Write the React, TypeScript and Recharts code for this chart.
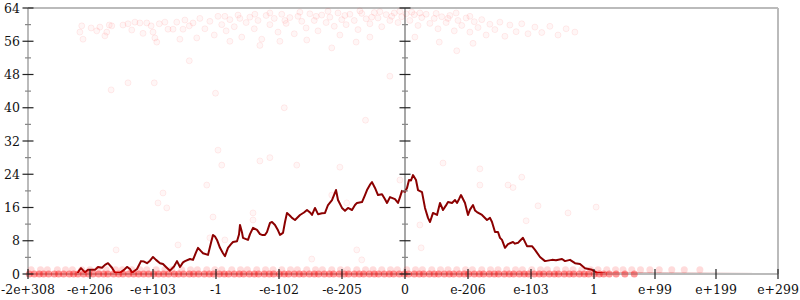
import React from 'react';
import { ComposedChart, Line, Scatter, XAxis, YAxis, ReferenceLine } from 'recharts';

// x positions of the labelled ticks (axis units) and their labels
const X_TICKS = [0, 0.992, 2, 3.008, 4.016, 5.024, 6.032, 7.04, 8.048, 9.056, 10.032, 11.008, 12];
const X_LABELS = ['-2e+308', '-e+206', '-e+103', '-1', '-e-102', '-e-205', '0', 'e-206', 'e-103', '1', 'e+99', 'e+199', 'e+299'];
const Y_TICKS = [0, 4, 8, 12, 16, 20, 24, 28, 32, 36, 40, 44, 48, 52, 56, 60, 64];
const ZERO_X = X_TICKS[6];

// running average [x, y]
const AVG: [number, number][] = [
  [0, 0], [0.784, 0], [0.816, 0.8], [0.848, 1.4], [0.912, 0.4], [0.96, 1.0], [1.072, 1.0], [1.12, 1.7],
  [1.184, 1.5], [1.232, 2.2], [1.28, 2.6], [1.344, 1.5], [1.392, 0.3], [1.472, 0.3], [1.536, 1.0], [1.584, 1.7],
  [1.632, 1.2], [1.664, 0.3], [1.744, 1.2], [1.808, 3.1], [1.856, 3.0], [1.904, 2.6], [1.952, 3.2], [2.0, 4.1],
  [2.048, 3.4], [2.112, 2.6], [2.16, 2.4], [2.208, 1.7], [2.272, 0.8], [2.336, 1.8], [2.384, 3.1], [2.432, 1.7],
  [2.48, 2.8], [2.512, 3.1], [2.592, 3.6], [2.64, 3.4], [2.688, 5.2], [2.72, 6.3], [2.768, 5.5], [2.8, 5.0],
  [2.88, 4.6], [2.928, 7.5], [2.96, 9.4], [2.992, 9.0], [3.024, 8.2], [3.072, 6.3], [3.12, 5.0], [3.152, 4.3],
  [3.2, 6.3], [3.248, 7.2], [3.28, 7.7], [3.344, 7.9], [3.376, 9.5], [3.392, 11.8], [3.424, 10.0], [3.44, 8.7],
  [3.488, 8.4], [3.52, 8.2], [3.552, 9.6], [3.6, 11.1], [3.664, 10.6], [3.712, 9.6], [3.744, 9.4], [3.792, 9.4],
  [3.824, 10.1], [3.872, 12.3], [3.904, 12.5], [3.952, 11.8], [4.0, 10.5], [4.032, 9.4], [4.08, 9.9], [4.112, 12.5],
  [4.144, 14.7], [4.192, 14.0], [4.224, 13.5], [4.272, 13.0], [4.352, 14.2], [4.416, 14.8], [4.464, 15.4], [4.512, 14.8],
  [4.544, 14.2], [4.592, 15.9], [4.64, 14.4], [4.704, 14.6], [4.752, 14.7], [4.8, 16.6], [4.864, 17.8], [4.928, 20.2],
  [4.96, 17.8], [5.024, 15.9], [5.072, 15.2], [5.12, 15.9], [5.184, 15.4], [5.232, 16.6], [5.264, 17.1], [5.344, 17.3],
  [5.392, 19.0], [5.424, 20.2], [5.472, 21.5], [5.504, 22.1], [5.552, 20.7], [5.6, 19.0], [5.664, 19.2], [5.712, 18.0],
  [5.744, 17.1], [5.792, 18.5], [5.872, 18.0], [5.92, 17.1], [5.952, 18.5], [5.984, 20.0], [6.032, 19.8], [6.064, 20.7],
  [6.096, 22.6], [6.128, 22.5], [6.16, 23.8], [6.208, 22.6], [6.24, 20.2], [6.304, 19.7], [6.352, 15.9], [6.4, 13.5],
  [6.432, 12.5], [6.48, 14.7], [6.544, 14.2], [6.592, 17.1], [6.64, 15.4], [6.688, 16.5], [6.72, 17.3], [6.784, 17.1],
  [6.832, 17.8], [6.864, 17.1], [6.896, 18.0], [6.928, 19.0], [6.992, 17.1], [7.04, 14.2], [7.072, 15.5], [7.12, 16.6],
  [7.152, 15.3], [7.184, 14.9], [7.264, 14.2], [7.344, 13.0], [7.392, 13.5], [7.424, 12.5], [7.472, 10.1], [7.52, 10.1],
  [7.552, 8.7], [7.584, 8.2], [7.632, 6.3], [7.68, 7.2], [7.76, 7.7], [7.792, 7.3], [7.84, 7.5], [7.872, 8.0],
  [7.92, 8.7], [7.984, 6.7], [8.064, 6.7], [8.112, 5.8], [8.192, 4.1], [8.272, 3.1], [8.384, 3.4], [8.448, 3.3],
  [8.544, 3.6], [8.592, 3.1], [8.672, 3.4], [8.752, 2.6], [8.832, 2.4], [8.912, 1.4], [9.024, 1.0], [9.104, 0.3],
  [9.232, 0.15], [9.952, 0.08], [12, 0.02],
];

// samples sitting at 0 (dense band along the bottom)
const AT_ZERO = [
  0.02, 0.1, 0.18, 0.25, 0.33, 0.42, 0.49, 0.57, 0.66, 0.73, 0.8, 0.89, 0.97, 1.04, 1.13, 1.21, 1.28, 1.37,
  1.45, 1.52, 1.61, 1.69, 1.77, 1.85, 1.93, 2.01, 2.09, 2.17, 2.25, 2.34, 2.41, 2.49, 2.58, 2.65, 2.73, 2.82,
  2.9, 2.97, 3.06, 3.14, 3.21, 3.3, 3.38, 3.45, 3.54, 3.62, 3.69, 3.78, 3.86, 3.93, 4.02, 4.1, 4.17, 4.26,
  4.34, 4.41, 4.5, 4.58, 4.65, 4.74, 4.82, 4.89, 4.98, 5.06, 5.13, 5.22, 5.3, 5.37, 5.46, 5.54, 5.61, 5.7,
  5.78, 5.85, 5.94, 6.02, 6.09, 6.18, 6.26, 6.33, 6.42, 6.5, 6.57, 6.66, 6.74, 6.81, 6.9, 6.98, 7.05, 7.14,
  7.22, 7.29, 7.38, 7.46, 7.53, 7.62, 7.7, 7.77, 7.86, 7.94, 8.01, 8.1, 8.18, 8.25, 8.34, 8.42, 8.49, 8.58,
  8.66, 8.73, 8.82, 8.9, 8.97, 9.06, 9.14, 9.21, 9.3, 9.41, 9.55, 9.7,
];

// samples sitting at 1
const AT_ONE = [
  0.05, 0.2, 0.31, 0.47, 0.6, 0.71, 0.86, 0.99, 1.12, 1.25, 1.4, 1.51, 1.66, 1.79, 1.9, 2.05, 2.19, 2.3,
  2.46, 2.6, 2.71, 2.86, 2.99, 3.1, 3.26, 3.4, 3.51, 3.66, 3.8, 3.92, 4.06, 4.2, 4.31, 4.46, 4.6, 4.71,
  4.86, 5.0, 5.11, 5.26, 5.4, 5.52, 5.66, 5.8, 5.91, 6.06, 6.2, 6.31, 6.46, 6.6, 6.72, 6.86, 7.0, 7.11,
  7.26, 7.4, 7.52, 7.66, 7.8, 7.91, 8.06, 8.2, 8.31, 8.46, 8.6, 8.72, 8.86, 9.0, 9.12, 9.26, 9.4, 9.52,
  9.66, 9.8, 9.95, 10.1, 10.3, 10.5, 10.75,
];

// the band of samples near the top
const HIGH: [number, number][] = [
  [0.86, 59.7], [0.83, 58.2], [0.88, 56.5], [1.01, 59.2], [1.1, 58.5], [1.15, 59.4], [1.23, 57.3], [1.26, 58.2],
  [1.3, 59.9], [1.34, 59.7], [1.52, 59.9], [1.6, 60.2], [1.66, 58.7], [1.71, 60.6], [1.79, 60.4], [1.84, 57.9],
  [1.9, 60.4], [1.97, 59.7], [2.0, 58.2], [2.03, 56.8], [2.06, 55.8], [2.1, 60.2], [2.19, 60.6], [2.24, 58.9],
  [2.32, 58.9], [2.38, 60.6], [2.43, 56.5], [2.48, 58.9], [2.51, 61.1], [2.58, 59.7], [2.64, 60.4], [2.7, 56.8],
  [2.75, 61.5], [2.83, 59.0], [2.91, 60.8], [2.98, 57.5], [3.04, 62.0], [3.1, 60.0], [3.17, 58.5], [3.23, 61.2],
  [3.3, 59.5], [3.36, 62.3], [3.42, 57.0], [3.49, 60.5], [3.55, 61.8], [3.62, 59.0], [3.68, 61.0], [3.74, 56.5],
  [3.81, 62.2], [3.87, 60.0], [3.94, 61.5], [4.0, 58.2], [4.06, 62.5], [4.13, 60.3], [4.19, 61.7], [4.26, 57.8],
  [4.32, 62.0], [4.38, 60.8], [4.45, 59.2], [4.51, 62.6], [4.58, 61.0], [4.64, 58.5], [4.7, 62.3], [4.77, 60.5],
  [4.83, 61.8], [4.9, 59.6], [4.96, 62.8], [5.02, 61.2], [5.09, 60.0], [5.15, 62.5], [5.22, 61.0], [5.28, 58.8],
  [5.34, 62.7], [5.41, 61.4], [5.47, 60.2], [5.54, 62.9], [5.6, 61.6], [5.66, 59.5], [5.73, 62.4], [5.79, 61.0],
  [5.86, 62.8], [5.92, 60.5], [5.98, 61.9], [6.05, 62.6], [6.11, 61.0], [6.18, 62.4], [6.24, 59.8], [6.3, 61.7],
  [6.37, 62.5], [6.43, 60.3], [6.5, 61.5], [6.56, 59.0], [6.62, 61.9], [6.69, 60.5], [6.75, 62.2], [6.82, 58.5],
  [6.88, 61.0], [6.94, 59.8], [7.01, 61.6], [7.07, 58.2], [7.14, 60.7], [7.2, 59.3], [7.26, 61.2], [7.33, 57.5],
  [7.39, 60.1], [7.47, 58.8], [7.55, 60.6], [7.63, 57.2], [7.71, 59.9], [7.81, 58.3], [7.9, 60.2], [8.0, 57.8],
  [8.11, 59.4], [8.22, 58.1], [8.35, 59.6], [8.48, 57.5], [8.61, 59.0], [8.75, 58.2],
  [4.46, 56.3], [5.25, 55.8], [6.58, 55.8], [7.12, 55.5], [4.86, 54.4], [6.86, 53.7], [3.71, 55.0], [3.23, 56.0],
  [6.19, 57.0], [5.47, 57.0], [4.99, 57.5], [4.03, 56.0],
  [4.35, 63.0], [4.61, 62.0], [4.8, 63.2], [5.07, 62.2], [5.31, 63.3], [5.5, 61.8], [5.63, 63.1], [5.82, 62.0],
  [5.95, 63.2], [6.14, 63.0], [6.27, 62.8], [6.53, 62.7], [6.72, 61.5], [6.85, 62.8], [7.07, 62.0], [3.63, 62.5],
  [3.87, 62.8], [4.11, 61.0], [3.39, 61.5], [3.15, 62.0],
  [2.58, 51.3], [1.6, 46.0], [2.02, 46.0], [1.33, 44.3], [5.79, 47.6],
];

// scattered samples in between
const MID: [number, number][] = [
  [2.86, 21.4], [2.16, 19.5], [2.08, 17.1], [2.22, 15.9], [2.96, 13.7], [3.6, 14.7], [3.6, 13.0], [2.4, 7.0],
  [2.91, 8.7], [3.15, 8.2], [7.9, 23.3], [7.68, 21.4], [7.76, 20.8], [8.16, 16.4], [7.97, 12.8], [8.64, 14.7],
  [9.09, 16.1], [5.95, 22.6], [6.27, 11.8], [6.29, 6.3], [7.23, 21.4], [4.54, 3.6], [5.26, 5.8], [5.34, 3.4],
  [4.86, 19.0], [1.41, 5.8], [4.99, 25.7], [5.1, 17.1], [6.64, 26.7], [7.23, 25.3], [3.1, 26.2], [3.87, 28.0],
  [3.71, 27.2], [4.3, 26.2], [3.04, 29.8], [3.0, 43.5], [4.1, 40.0], [5.4, 37.0],
];

const FONT = 'DejaVu Serif';

const toPts = (rows: [number, number][]) => rows.map(([x, y]) => ({ x, y }));
const avgData = toPts(AVG);
const zeroData = AT_ZERO.map(x => ({ x, y: 0 }));
const oneData = AT_ONE.map(x => ({ x, y: 1 }));
const cloudData = toPts([...HIGH, ...MID]);
const midTicks = Y_TICKS.map(y => ({ x: ZERO_X, y }));

const dot = (r: number, fo: number, so: number) => (p: any) => (
  <circle cx={p.cx} cy={p.cy} r={r} fill="#ff0000" fillOpacity={fo}
    stroke={so > 0 ? '#ff0000' : 'none'} strokeOpacity={so} strokeWidth={1} />
);

const crossTick = (cx: number, cy: number, major: boolean) => (
  <line x1={cx - (major ? 5.5 : 3)} x2={cx + (major ? 5.5 : 3)} y1={cy} y2={cy}
    stroke={major ? '#222' : '#888'} strokeWidth={1.2} />
);

const LeftTick = (p: any) => {
  const major = p.payload.value % 8 === 0;
  return (
    <g>
      {crossTick(p.x, p.y, major)}
      {major && (
        <text x={p.x - 8} y={p.y + 4.5} textAnchor="end" fontSize={12.5} fontFamily={FONT} fill="#111">
          {p.payload.value}
        </text>
      )}
    </g>
  );
};

const RightTick = (p: any) => crossTick(p.x, p.y, p.payload.value % 8 === 0);

const BottomTick = (p: any) => {
  const i = X_TICKS.indexOf(p.payload.value);
  return (
    <g>
      <line x1={p.x} x2={p.x} y1={p.y - 5} y2={p.y + 5} stroke="#222" strokeWidth={1.2} />
      <text x={p.x} y={p.y + 20} textAnchor="middle" fontSize={12.5} fontFamily={FONT} fill="#111">
        {X_LABELS[i]}
      </text>
    </g>
  );
};

export default function App() {
  return (
    <div style={{ position: 'absolute', left: 0, top: 0, width: 800, height: 300, background: '#fff' }}>
      <ComposedChart width={800} height={300} margin={{ top: 8, right: 0, bottom: 0, left: 0 }}>
        <XAxis type="number" dataKey="x" domain={[0, 12]} ticks={X_TICKS} interval={0} height={26}
          tickSize={0} tickMargin={0} tick={BottomTick} axisLine={{ stroke: '#bbb', strokeWidth: 2 }} />
        <YAxis type="number" dataKey="y" domain={[0, 64]} ticks={Y_TICKS} interval={0} width={28}
          tickSize={0} tickMargin={0} tick={LeftTick} axisLine={{ stroke: '#bbb', strokeWidth: 2 }} />
        <YAxis yAxisId="r" orientation="right" type="number" dataKey="y" domain={[0, 64]} ticks={Y_TICKS}
          interval={0} width={22} tickSize={0} tickMargin={0} tick={RightTick}
          axisLine={{ stroke: '#bbb', strokeWidth: 2 }} />
        <ReferenceLine y={64} stroke="#bbb" strokeWidth={2} />
        <ReferenceLine x={ZERO_X} stroke="#777" strokeWidth={1.3} />
        <Scatter data={cloudData} shape={dot(3, 0.035, 0.07)} isAnimationActive={false} />
        <Scatter data={oneData} shape={dot(3.5, 0.14, 0)} isAnimationActive={false} />
        <Scatter data={zeroData} shape={dot(3.5, 0.4, 0)} isAnimationActive={false} />
        <Line data={avgData} dataKey="y" type="linear" stroke="#8b0000" strokeWidth={2} dot={false}
          strokeLinejoin="round" isAnimationActive={false} />
        <Scatter data={midTicks} isAnimationActive={false}
          shape={(p: any) => crossTick(p.cx, p.cy, p.payload.y % 8 === 0)} />
      </ComposedChart>
    </div>
  );
}
